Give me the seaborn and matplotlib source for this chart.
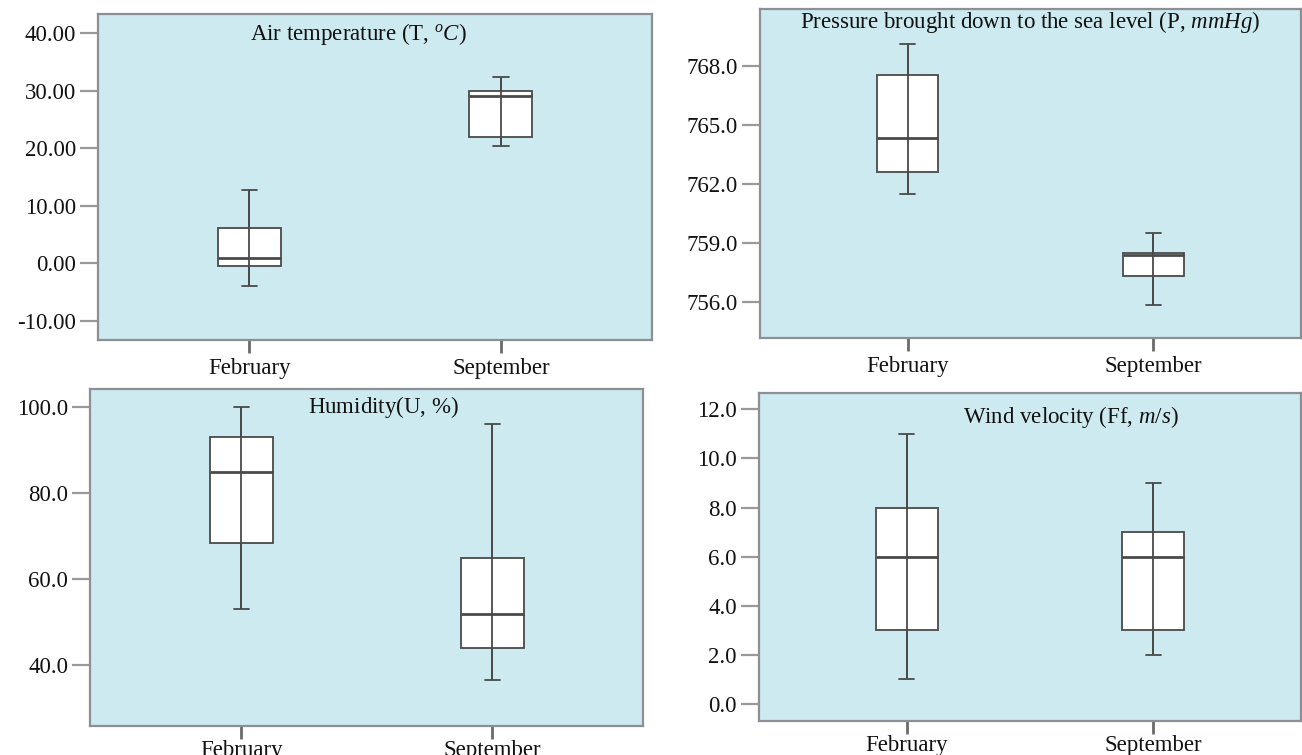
import numpy as np
import pandas as pd
import matplotlib
matplotlib.use("Agg")
import matplotlib.pyplot as plt
import seaborn as sns

sns.set_theme(style="white")
plt.rcParams['font.family'] = ['Liberation Serif', 'DejaVu Serif']
plt.rcParams['mathtext.fontset'] = 'custom'
plt.rcParams['mathtext.rm'] = 'Liberation Serif'
plt.rcParams['mathtext.it'] = 'Liberation Serif:italic'

months = ["February", "September"]

# five-number summaries: [min, Q1, median, Q3, max]
temp_feb = [-4.0, -0.4, 0.9, 6.1, 12.7]
temp_sep = [20.4, 21.9, 29.1, 29.9, 32.3]
pres_feb = [761.5, 762.6, 764.35, 767.5, 769.1]
pres_sep = [755.85, 757.35, 758.4, 758.5, 759.5]
hum_feb = [53.0, 68.5, 85.0, 93.0, 100.0]
hum_sep = [36.7, 44.0, 52.0, 65.0, 96.0]
wind_feb = [1.0, 3.0, 6.0, 8.0, 11.0]
wind_sep = [2.0, 3.0, 6.0, 7.0, 9.0]

temp_ticks = [-10, 0, 10, 20, 30, 40]
pres_ticks = [756, 759, 762, 765, 768]
hum_ticks = [40, 60, 80, 100]
wind_ticks = [0, 2, 4, 6, 8, 10, 12]

titles = ["Air temperature (T, $^{o}\\mathit{C}$)",
          "Pressure brought down to the sea level (P, $\\mathit{mmHg}$)",
          "Humidity(U, $\\mathit{\\%}$)",
          "Wind velocity (Ff, $\\mathit{m/s}$)"]

BG = "#cdeaf0"
SPINE = "#8c9094"
EDGE = "#4a4a4a"
FS = 16.5

fig = plt.figure(figsize=(13.02, 7.55), dpi=100)

panels = [
    dict(rect=[0.0753, 0.5497, 0.4255, 0.4318], feb=temp_feb, sep=temp_sep, ticks=temp_ticks,
         ylim=(-13.3, 43.3), fmt="{:.2f}", tpos=(0.47, 0.94), xpad=4),
    dict(rect=[0.5837, 0.5523, 0.4155, 0.4354], feb=pres_feb, sep=pres_sep, ticks=pres_ticks,
         ylim=(754.2, 770.85), fmt="{:.1f}", tpos=(0.50, 0.962), xpad=4),
    dict(rect=[0.0695, 0.0384, 0.4244, 0.4464], feb=hum_feb, sep=hum_sep, ticks=hum_ticks,
         ylim=(25.9, 104.2), fmt="{:.1f}", tpos=(0.53, 0.947), xpad=1),
    dict(rect=[0.5830, 0.0454, 0.4162, 0.4337], feb=wind_feb, sep=wind_sep, ticks=wind_ticks,
         ylim=(-0.68, 12.65), fmt="{:.1f}", tpos=(0.575, 0.929), xpad=1),
]

for p, title in zip(panels, titles):
    ax = fig.add_axes(p["rect"])
    df = pd.DataFrame({
        "month": [months[0]] * len(p["feb"]) + [months[1]] * len(p["sep"]),
        "value": list(p["feb"]) + list(p["sep"]),
    })
    sns.boxplot(data=df, x="month", y="value", order=months, ax=ax, whis=(0, 100),
                width=0.25, color="white", linecolor=EDGE, linewidth=1.3,
                showfliers=False,
                boxprops=dict(facecolor="white", edgecolor=EDGE),
                medianprops=dict(color=EDGE, linewidth=2.0),
                whiskerprops=dict(color=EDGE, linewidth=1.3),
                capprops=dict(color=EDGE, linewidth=1.3))
    # whisker line runs through the box like the reference
    for i, vals in enumerate([p["feb"], p["sep"]]):
        ax.vlines(i, vals[0], vals[-1], color=EDGE, linewidth=1.3, zorder=3)
    for ln in ax.lines:
        xd = np.asarray(ln.get_xdata(), dtype=float)
        yd = np.asarray(ln.get_ydata(), dtype=float)
        if len(xd) == 2 and yd[0] == yd[1]:
            c = xd.mean()
            if abs(xd[1] - xd[0]) < 0.2:
                ln.set_xdata([c - 0.03, c + 0.03])
    ax.set_facecolor(BG)
    ax.set_xlim(-0.6, 1.6)
    ax.set_ylim(*p["ylim"])
    ax.set_yticks(p["ticks"])
    ax.set_yticklabels([p["fmt"].format(t) for t in p["ticks"]], fontsize=FS)
    ax.set_xticks([0, 1])
    ax.set_xticklabels(months, fontsize=FS)
    ax.set_xlabel("")
    ax.set_ylabel("")
    for s in ax.spines.values():
        s.set_color(SPINE)
        s.set_linewidth(1.6)
    ax.tick_params(axis="y", direction="out", length=13, width=1.6, color="#9a9a9a",
                   left=True, pad=3, labelcolor="#111111")
    ax.tick_params(axis="x", direction="out", length=9, width=2.0, color="#6a6a6a",
                   bottom=True, pad=p["xpad"], labelcolor="#111111")
    ax.text(p["tpos"][0], p["tpos"][1], title, transform=ax.transAxes,
            ha="center", va="center", fontsize=FS, color="#111111")

fig.savefig("out.png", dpi=100)
